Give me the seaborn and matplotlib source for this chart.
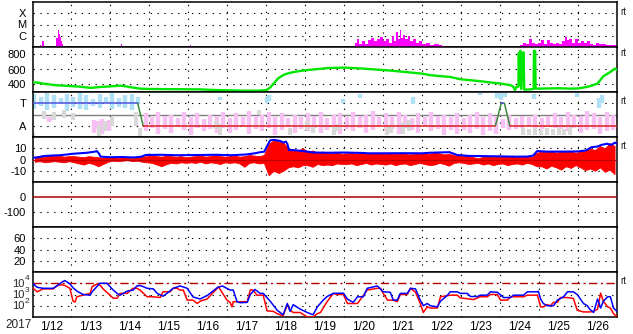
import numpy as np
import matplotlib
matplotlib.use("Agg")
import matplotlib.pyplot as plt
from matplotlib.ticker import NullLocator, FixedLocator
import seaborn as sns

# ---------------- data (time = days since 2017-01-12 00:00 UT) ----------------
day_labels = ["1/12", "1/13", "1/14", "1/15", "1/16", "1/17", "1/18", "1/19",
              "1/20", "1/21", "1/22", "1/23", "1/24", "1/25", "1/26"]
year_label = "2017"

# X-ray flux (log10 W/m2)
xray_t = [0.0, 0.19, 0.22, 0.24, 0.27, 0.30, 0.60, 0.63, 0.66, 0.69, 0.71, 0.73, 0.76, 0.78,
          2.25, 2.27, 2.30, 4.02, 4.05, 4.07,
          8.23, 8.31, 8.36, 8.41, 8.49, 8.57, 8.64, 8.72, 8.80, 8.87, 8.95, 9.03, 9.11, 9.18,
          9.26, 9.31, 9.36, 9.41, 9.44, 9.49, 9.54, 9.60, 9.65, 9.72, 9.80, 9.88, 9.95, 10.06,
          10.16, 10.26, 10.37, 10.47, 10.57, 10.65, 10.93, 10.98, 11.03, 11.37, 11.39, 11.42,
          12.47, 12.55, 12.62, 12.70, 12.78, 12.86, 12.93, 13.01, 13.09, 13.16, 13.24, 13.32,
          13.39, 13.47, 13.55, 13.63, 13.68, 13.73, 13.80, 13.88, 13.96, 14.04, 14.11, 14.19,
          14.27, 14.35, 14.42, 14.50, 14.58, 14.68, 14.78, 14.88, 14.98]
xray_log = [-8, -8, -6.82, -8, -6.45, -8, -8, -6.2, -5.48, -5.85, -6.15, -6.45, -6.7, -8,
            -8, -6.7, -8, -8, -6.85, -8,
            -8, -6.6, -6.3, -6.7, -6.5, -6.75, -6.4, -6.2, -6.5, -6.3, -6.1, -6.45, -6.3, -6.6,
            -6.0, -6.5, -5.7, -6.3, -5.5, -6.2, -5.9, -6.3, -6.0, -6.5, -6.3, -6.6, -6.5, -6.75,
            -6.6, -6.8, -6.75, -6.85, -6.9, -8, -8, -6.9, -8, -8, -6.9, -8,
            -8, -6.8, -6.6, -6.75, -6.3, -6.6, -6.7, -6.6, -6.4, -6.7, -6.35, -6.6,
            -6.75, -6.6, -6.7, -6.5, -6.1, -6.4, -6.3, -6.6, -6.3, -6.6, -6.5, -6.6,
            -6.5, -6.7, -6.8, -6.6, -6.7, -6.75, -6.85, -6.8, -6.85]

# Solar wind speed (km/s)
speed_t = [0.0, 0.12, 0.30, 0.45, 0.60, 0.80, 1.00, 1.20, 1.40, 1.50, 1.70, 2.00, 2.25, 2.40,
           2.50, 2.76, 3.00, 3.50, 4.00, 4.30, 4.60, 5.00, 5.40, 5.80, 6.00, 6.10, 6.20, 6.30,
           6.45, 6.60, 6.80, 7.00, 7.20, 7.40, 7.60, 8.00, 8.40, 8.80, 9.20, 9.60, 10.00, 10.21,
           10.50, 10.72, 10.98, 11.24, 11.49, 11.75, 12.01, 12.27, 12.34, 12.38, 12.42, 12.47,
           12.48, 12.50, 12.52, 12.54, 12.56, 12.58, 12.60, 12.62, 12.70, 12.78, 12.86, 12.87,
           12.90, 12.91, 13.00, 13.50, 13.80, 14.00, 14.20, 14.30, 14.50, 14.65, 14.83, 14.95, 15.00]
speed_v = [430, 425, 410, 400, 390, 385, 378, 372, 360, 355, 365, 375, 385, 375,
           365, 345, 340, 338, 336, 335, 328, 322, 318, 318, 325, 360, 420, 480,
           530, 555, 575, 590, 600, 610, 620, 625, 615, 600, 585, 565, 545, 524,
           510, 501, 470, 457, 444, 427, 413, 391, 368, 325, 370, 370,
           820, 400, 850, 340, 800, 450, 830, 330, 333, 335, 340, 848,
           848, 346, 345, 350, 345, 347, 365, 377, 413, 510, 568, 613, 590]

# Predicted sector polarity (T = +1, A = -1)
sector_t = [0.0, 2.70, 2.84, 11.88, 12.03, 12.11, 12.25, 15.0]
sector_v = [1, 1, -1, -1, 1, 1, -1, -1]
sector_seg_color = ["#5050e0", "#3a8a3a", "#e02020", "#3a8a3a", "#5050e0", "#3a8a3a", "#e02020"]

# Observed IMF angle scatter (bins: time, low, high in panel units)
phi_blue_t = [0.05, 0.22, 0.38, 0.55, 0.72, 0.88, 1.05, 1.22, 1.38, 1.55, 1.72, 1.88, 2.05,
              2.22, 2.38, 2.55, 2.72,
              4.82, 6.02, 6.08, 7.98, 8.41, 9.77, 11.49, 11.93, 12.03, 12.12, 12.86, 13.98, 14.55, 14.62]
phi_blue_lo = [0.5, 0.8, 0.4, 0.6, 0.9, 0.3, 0.7, 0.5, 0.4, 0.8, 0.6, 1.0, 0.5, 0.7, 0.6, 0.4, 0.9,
               1.3, 1.0, 1.2, 1.0, 1.5, 0.9, 1.7, 1.5, 1.3, 1.6, 1.4, 1.6, 0.6, 1.0]
phi_blue_hi = [1.8, 1.6, 1.9, 1.7, 1.5, 1.8, 1.6, 1.9, 1.7, 1.4, 1.8, 1.6, 1.9, 1.5, 1.7, 1.8, 1.6,
               1.6, 1.6, 1.7, 1.4, 1.8, 1.6, 1.95, 1.95, 1.9, 1.95, 1.8, 1.95, 1.5, 1.7]

phi_pink_early_t = [0.42, 0.50, 1.58, 1.68, 1.78, 1.88, 1.97]
phi_pink_early_lo = [-0.7, -0.5, -1.6, -1.3, -1.7, -1.2, -1.5]
phi_pink_early_hi = [-0.2, -0.3, -0.5, -0.6, -0.4, -0.7, -0.5]
phi_pink_lo = [-1.5, -1.2, -1.7, -1.3, -1.6, -1.1, -1.4, -1.8, -1.2, -1.5, -1.3, -1.6,
               -1.2, -1.6, -1.4, -1.1, -1.7, -1.3, -1.5, -1.2, -1.8, -1.4, -1.1, -1.6,
               -1.3, -1.5, -1.2, -1.6, -1.4, -1.1, -1.7, -1.3, -1.5, -1.2, -1.6, -1.4,
               -1.1, -1.5, -1.3, -1.7, -1.2, -1.4, -1.6, -1.1, -1.5, -1.3, -1.8, -1.4,
               -1.7, -1.4, -1.6, -1.3, -1.8, -1.5, -1.7, -1.2, -1.4, -1.3, -1.2, -1.1,
               -1.2, -1.3, -1.1, -1.2, -1.3, -1.5, -1.2, -1.6, -1.4, -1.3, -1.7, -1.5, -1.4]
phi_pink_hi = [0.1, -0.2, 0.2, -0.1, 0.0, -0.3, 0.2, -0.2, 0.1, -0.4, 0.0, -0.1,
               0.2, -0.3, 0.1, -0.2, 0.3, -0.1, 0.0, 0.2, -0.2, 0.1, -0.3, 0.0,
               -0.2, 0.1, -0.1, 0.2, -0.3, 0.0, 0.1, -0.2, 0.2, -0.1, 0.0, 0.3,
               -0.2, 0.1, -0.1, 0.2, 0.0, -0.3, 0.1, -0.2, 0.2, -0.1, 0.0, -0.2,
               0.1, -0.3, 0.0, 0.2, -0.2, 0.1, -0.1, -0.4, 0.0, -0.3, -0.1, -0.2,
               0.0, -0.3, -0.1, 0.1, -0.2, 0.2, 0.0, -0.1, 0.3, 0.1, -0.2, 0.2, 0.0]

phi_gray_t = [0.02, 0.30, 0.55, 0.80, 1.05, 1.70, 1.85, 2.05, 2.65, 2.75, 4.70, 4.82, 5.80,
              6.60, 7.05, 7.20, 7.75, 7.85, 9.10, 9.20, 9.50, 9.65,
              12.60, 12.75, 12.90, 13.05, 13.20, 13.35, 13.50, 13.65, 13.80]
phi_gray_lo = [-1.9, -0.4, -0.5, -0.3, -0.5, -1.9, -1.5, -1.0, -1.0, -1.9, -1.3, -1.8, 0.0,
               -1.8, -1.4, -1.6, -1.8, -1.5, -1.8, -1.6, -1.7, -1.5,
               -1.8, -1.8, -1.85, -1.8, -1.85, -1.8, -1.85, -1.8, -1.8]
phi_gray_hi = [-1.6, 0.3, 0.2, 0.4, 0.1, -0.9, -0.6, -0.2, 0.2, -1.2, -0.6, -0.8, 0.4,
               -1.2, -0.6, -0.9, -1.1, -0.8, -1.1, -0.9, -0.7, -0.5,
               -1.2, -1.3, -1.2, -1.4, -1.2, -1.3, -1.2, -1.3, -1.1]

# IMF |B| (nT)
bt_t = [0.0, 0.15, 0.27, 0.5, 0.7, 0.9, 1.0, 1.2, 1.4, 1.6, 1.65, 1.7, 1.75, 2.0, 2.3, 2.6,
        2.8, 2.9, 3.3, 3.7, 4.3, 4.7, 5.1, 5.5, 5.7, 5.85, 5.95, 6.02, 6.1, 6.2, 6.35, 6.45,
        6.5, 6.54, 6.58, 6.8, 7.05, 7.2, 7.6, 8.0, 8.5, 8.6, 9.0, 9.5, 10.0, 10.2, 10.7,
        10.9, 11.2, 11.6, 12.0, 12.4, 12.7, 12.85, 12.95, 13.2, 13.6, 14.0, 14.2, 14.35,
        14.5, 14.6, 14.75, 14.85, 14.95, 15.0]
bt_v = [1.5, 2.0, 3.0, 3.5, 3.8, 4.5, 5.0, 5.5, 6.0, 7.0, 7.5, 5.5, 2.5, 2.0, 2.2, 1.8,
        2.5, 4.0, 4.2, 3.8, 4.0, 4.2, 3.8, 4.5, 5.5, 6.5, 7.0, 12.0, 17.0, 17.5, 16.5, 15.0,
        16.0, 14.0, 8.5, 8.0, 7.0, 6.2, 6.0, 6.2, 5.8, 5.5, 5.5, 5.6, 5.5, 6.0, 6.5,
        4.0, 3.2, 3.0, 2.8, 2.5, 2.6, 3.5, 7.5, 7.0, 7.0, 7.2, 8.0, 11.0,
        11.5, 13.0, 14.0, 13.0, 15.0, 14.0]

# IMF Bz envelope per 3-hour bin (nT)
bz_hi = [2.5, 3.0, 2.0, 3.5, 3.0, 3.5, 2.5, 3.0,
         3.0, 2.5, 2.0, 3.0, 2.5, 2.0, 1.5, 2.0,
         2.0, 1.5, 2.0, 1.5, 1.0, 2.0, 2.5, 3.0,
         3.5, 3.0, 2.5, 3.5, 3.0, 2.5, 3.0, 2.0,
         2.5, 3.0, 3.5, 2.5, 3.0, 4.0, 3.0, 2.5,
         3.0, 3.5, 2.5, 3.0, 4.0, 3.5, 3.0, 4.0,
         14.0, 17.0, 16.0, 15.0, 10.0, 9.0, 8.0, 10.0,
         7.0, 8.0, 6.0, 7.0, 6.0, 5.5, 6.5, 5.0,
         5.5, 6.0, 5.0, 6.5, 5.0, 6.0, 5.5, 6.0,
         5.0, 6.0, 5.5, 6.0, 5.0, 4.5, 5.5, 5.0,
         5.5, 5.0, 6.0, 5.5, 4.5, 5.0, 4.0, 3.5,
         3.5, 3.0, 2.0, 1.0, 2.5, 3.0, 2.5, 3.5,
         3.0, 2.5, 3.5, 2.0, 2.5, 3.0, 2.0, 6.0,
         7.0, 6.5, 7.5, 6.0, 7.0, 6.5, 7.5, 6.0,
         7.0, 8.0, 9.5, 8.5, 12.0, 10.0, 14.5, 12.0]
bz_lo = [-2.0, -1.5, -2.5, -2.0, -1.5, -2.0, -2.5, -1.5,
         -2.5, -3.5, -4.5, -3.0, -4.0, -6.0, -4.0, -2.0,
         -1.0, -1.5, -1.0, -0.5, -1.5, -1.0, -2.0, -2.5,
         -3.0, -4.5, -6.0, -4.0, -3.0, -3.5, -2.5, -3.0,
         -2.5, -3.0, -2.0, -3.5, -2.5, -3.0, -4.0, -2.5,
         -3.0, -2.5, -3.5, -6.5, -3.0, -2.5, -3.5, -3.0,
         -14.0, -10.0, -12.0, -10.0, -7.0, -6.0, -7.0, -5.0,
         -5.0, -6.5, -4.0, -5.0, -4.5, -5.0, -3.5, -4.0,
         -4.0, -3.5, -5.0, -4.0, -3.0, -4.5, -3.5, -4.0,
         -4.5, -3.5, -5.0, -4.0, -3.5, -5.0, -4.0, -3.0,
         -4.0, -5.0, -4.5, -3.0, -4.0, -5.5, -3.0, -2.5,
         -3.0, -4.0, -3.5, -3.0, -4.5, -3.5, -5.0, -4.0,
         -3.5, -5.0, -4.0, -3.5, -4.5, -3.0, -4.0, -6.0,
         -6.0, -8.0, -5.5, -7.0, -9.0, -6.0, -7.5, -5.0,
         -7.0, -9.5, -8.0, -10.0, -7.0, -11.0, -9.0, -13.0]

# Electron flux (log10)
e_blue_t = [0.0, 0.12, 0.27, 0.53, 0.66, 0.78, 0.83, 0.96, 1.04, 1.14, 1.30, 1.48, 1.53, 1.73,
            1.91, 2.07, 2.17, 2.25, 2.43, 2.58, 2.68, 2.76, 2.84, 2.94, 3.10, 3.20, 3.35, 3.45,
            3.61, 3.79, 3.97, 4.12, 4.30, 4.48, 4.74, 4.87, 5.07, 5.15, 5.25, 5.33, 5.51, 5.59,
            5.71, 5.84, 5.92, 6.10, 6.28, 6.43, 6.54, 6.61, 6.69, 6.87, 7.05, 7.20, 7.31, 7.46,
            7.56, 7.72, 7.98, 8.08, 8.23, 8.34, 8.49, 8.59, 8.85, 9.00, 9.18, 9.26, 9.36, 9.44,
            9.62, 9.70, 9.83, 9.95, 10.03, 10.13, 10.21, 10.39, 10.47, 10.65, 10.72, 10.90, 10.98,
            11.16, 11.24, 11.42, 11.49, 11.67, 11.75, 11.93, 12.09, 12.27, 12.34, 12.60, 12.70,
            12.96, 12.98, 13.04, 13.11, 13.21, 13.37, 13.47, 13.63, 13.73, 13.88, 13.98, 14.14,
            14.24, 14.30, 14.40, 14.50, 14.58, 14.65, 14.76, 14.83, 14.91, 15.0]
e_blue_log = [4.0, 3.64, 3.55, 3.55, 3.85, 4.15, 4.24, 3.94, 3.6, 3.3, 3.0, 2.94, 3.24, 4.0,
              4.0, 3.4, 3.1, 2.94, 3.3, 3.39, 3.76, 3.8, 3.7, 3.55, 3.5, 3.1, 2.85, 3.1,
              3.55, 3.76, 3.55, 2.78, 2.6, 2.9, 3.6, 3.76, 3.4, 3.4, 2.36, 2.27, 2.3, 3.0,
              3.45, 3.1, 3.1, 2.4, 1.6, 1.2, 2.2, 1.5, 2.1, 1.7, 1.4, 1.2, 1.9, 2.5,
              2.82, 3.1, 3.12, 2.6, 2.3, 2.8, 2.8, 3.55, 3.76, 3.24, 3.2, 2.5, 2.5, 3.1,
              3.1, 3.55, 3.5, 2.5, 2.0, 2.2, 2.0, 1.9, 2.4, 2.94, 3.24, 3.24, 3.1,
              3.1, 2.82, 2.82, 2.94, 2.94, 3.24, 3.2, 2.73, 2.73, 2.94, 2.94, 3.24,
              3.24, 3.3, 2.6, 2.2, 2.0, 2.0, 2.5, 2.8, 3.24, 3.24, 3.0, 2.2,
              2.0, 1.7, 1.4, 2.6, 1.8, 2.4, 2.8, 2.8, 1.8, 1.5]
e_red_t = [0.0, 0.12, 0.27, 0.53, 0.66, 0.78, 0.83, 0.96, 1.04, 1.09, 1.14, 1.30, 1.48, 1.53,
           1.66, 1.73, 1.81, 1.99, 2.07, 2.17, 2.25, 2.43, 2.58, 2.68, 2.76, 2.94, 3.10, 3.20,
           3.28, 3.35, 3.53, 3.61, 3.71, 3.79, 3.87, 3.97, 4.12, 4.23, 4.30, 4.48, 4.74, 4.77,
           4.99, 5.07, 5.12, 5.15, 5.51, 5.59, 5.66, 5.76, 5.92, 6.02, 6.18, 6.28, 6.43, 6.54,
           6.61, 6.69, 6.87, 7.05, 7.20, 7.31, 7.39, 7.56, 7.72, 7.82, 7.98, 8.08, 8.34, 8.59,
           8.85, 8.93, 9.00, 9.11, 9.26, 9.36, 9.44, 9.62, 9.70, 9.83, 9.95, 10.03, 10.13, 10.21,
           10.39, 10.47, 10.72, 10.90, 10.98, 11.32, 11.49, 11.67, 11.75, 11.93, 12.01, 12.19,
           12.27, 12.60, 12.70, 12.96, 13.04, 13.11, 13.21, 13.29, 13.37, 13.47, 13.55, 13.73,
           13.88, 13.98, 14.14, 14.30, 14.40, 14.50, 14.58, 14.65, 14.76, 14.83, 14.91, 15.0]
e_red_log = [3.6, 3.24, 3.5, 3.5, 3.85, 3.85, 3.8, 3.55, 2.42, 2.33, 2.8, 2.95, 3.1, 3.7,
             3.94, 3.85, 3.5, 2.94, 2.67, 2.67, 3.1, 3.1, 3.55, 3.55, 3.39, 2.8, 2.8, 2.75,
             2.75, 3.24, 3.24, 3.55, 3.55, 3.39, 3.39, 2.5, 2.5, 2.2, 2.4, 2.6, 3.55, 3.7,
             2.5, 2.3, 1.9, 2.36, 2.36, 3.4, 3.4, 2.94, 2.94, 1.55, 1.5, 1.3, 1.1, 2.1,
             1.6, 1.4, 1.4, 1.0, 1.0, 1.3, 1.4, 2.36, 3.1, 3.0, 3.0, 2.2, 2.2, 3.4,
             3.55, 3.55, 3.1, 2.5, 2.5, 2.36, 3.0, 3.0, 3.55, 3.2, 2.2, 1.4, 1.9, 1.8,
             1.8, 2.8, 2.94, 2.94, 2.7, 2.55, 2.8, 2.8, 3.0, 3.0, 2.5, 2.5,
             2.8, 2.8, 2.94, 2.94, 1.9, 1.9, 2.1, 2.0, 2.3, 2.3, 2.73, 2.73,
             2.65, 1.6, 1.45, 1.45, 1.5, 1.7, 3.12, 2.4, 1.9, 1.8, 1.3, 1.0]
e_exponents = [2, 3, 4]


def pair(a, b):
    n = min(len(a), len(b))
    return np.asarray(a[:n], float), np.asarray(b[:n], float)


# ---------------- style ----------------
sns.set_theme(style="white")
plt.rcParams["font.family"] = ["Liberation Sans", "DejaVu Sans"]
plt.rcParams["mathtext.default"] = "regular"

W, H = 633, 334
fig = plt.figure(figsize=(W / 100, H / 100), dpi=100)
fig.patch.set_facecolor("white")

left_px, right_px, top_px, ph = 32.5, 617.0, 2.0, 45.0
DOT = (0, (1.2, 5.0))
YFS = 8.0

axes = []
for i in range(7):
    top = top_px + i * ph
    ax = fig.add_axes([left_px / W, 1 - (top + ph) / H, (right_px - left_px) / W, ph / H])
    ax.set_facecolor("white")
    ax.set_xlim(0, 15)
    for s in ax.spines.values():
        s.set_visible(True)
        s.set_color("black")
        s.set_linewidth(1.1)
    for d in range(1, 15):
        ax.axvline(d, color="black", lw=0.8, ls=DOT, zorder=1)
    ax.set_xticks([])
    ax.tick_params(axis="y", length=0, pad=4.5, labelsize=YFS, colors="black")
    axes.append(ax)

(ax1, ax2, ax3, ax4, ax5, ax6, ax7) = axes

def set_levels(ax, ticks, labels, dotted):
    ax.yaxis.set_major_locator(FixedLocator(ticks))
    ax.yaxis.set_minor_locator(NullLocator())
    ax.set_yticklabels(labels)
    for lv in dotted:
        ax.axhline(lv, color="black", lw=0.8, ls=DOT, zorder=1)
    ax.set_xlabel("")
    ax.set_ylabel("")

# Panel 1: X-ray
xt, xl = pair(xray_t, xray_log)
ax1.set_yscale("log")
ax1.fill_between(xt, 1e-9, 10 ** xl, step="mid", color="#ff00ff", lw=0, zorder=3)
ax1.set_ylim(1e-7, 1e-3)
set_levels(ax1, [1e-6, 1e-5, 1e-4], ["C", "M", "X"], [1e-6, 1e-5, 1e-4])

# Panel 2: solar wind speed
st, sv = pair(speed_t, speed_v)
sns.lineplot(x=st, y=sv, ax=ax2, color="#00e600", lw=1.7, estimator=None, sort=False, zorder=3)
ax2.set_ylim(300, 900)
set_levels(ax2, [400, 600, 800], ["400", "600", "800"], [400, 600, 800])

# Panel 3: sector
ax3.set_ylim(-2, 2)
set_levels(ax3, [-1, 1], ["A", "T"], [-1, 1])
ax3.axhline(0, color="#808080", lw=1.0, zorder=2)
bt_, blo = pair(phi_blue_t, phi_blue_lo)
_, bhi = pair(phi_blue_t, phi_blue_hi)
pk_t = 2.9 + np.arange(len(phi_pink_lo)) / 6.0
ax3.vlines(bt_, blo, bhi, color="#b0e0f4", lw=3.2, zorder=2)
ax3.vlines(pk_t, phi_pink_lo, phi_pink_hi, color="#f7c0f2", lw=3.2, zorder=2)
ax3.vlines(phi_pink_early_t, phi_pink_early_lo, phi_pink_early_hi, color="#f7c0f2", lw=3.2, zorder=2)
gt, glo = pair(phi_gray_t, phi_gray_lo)
_, ghi = pair(phi_gray_t, phi_gray_hi)
ax3.vlines(gt, glo, ghi, color="#d8d8d8", lw=3.0, zorder=2)
for k, c in enumerate(sector_seg_color):
    sns.lineplot(x=sector_t[k:k + 2], y=sector_v[k:k + 2], ax=ax3, color=c, lw=1.1,
                 estimator=None, sort=False, zorder=4)
ax3.set_xlim(0, 15)

# Panel 4: IMF Bt / Bz
ax4.set_ylim(-20, 20)
set_levels(ax4, [-10, 0, 10], ["-10", "0", "10"], [-10, 10])
nb = min(len(bz_hi), len(bz_lo))
bz_t = (np.arange(nb) + 0.5) / 8.0
ax4.fill_between(bz_t, bz_lo[:nb], bz_hi[:nb], color="#ff0000", lw=0.6, edgecolor="#ff0000", zorder=2)
ax4.axhline(0, color="#c00000", lw=0.9, zorder=3)
btt, btv = pair(bt_t, bt_v)
sns.lineplot(x=btt, y=btv, ax=ax4, color="#0000ff", lw=1.5, estimator=None, sort=False, zorder=4)

# Panel 5: Dst
ax5.set_ylim(-200, 100)
set_levels(ax5, [-100, 0], ["-100", "0"], [-100])
ax5.axhline(0, color="#aa0000", lw=1.1, zorder=3)

# Panel 6
ax6.set_ylim(0, 80)
set_levels(ax6, [20, 40, 60], ["20", "40", "60"], [20, 40, 60])

# Panel 7: electron flux
ax7.set_yscale("log")
ebt, ebv = pair(e_blue_t, e_blue_log)
ert, erv = pair(e_red_t, e_red_log)
sns.lineplot(x=ert, y=10 ** erv, ax=ax7, color="#ff0000", lw=1.1, estimator=None, sort=False, zorder=3)
sns.lineplot(x=ebt, y=10 ** ebv, ax=ax7, color="#0000ff", lw=1.1, estimator=None, sort=False, zorder=3)
ax7.set_ylim(1e1, 1e5)
set_levels(ax7, [10.0 ** e for e in e_exponents], ["" for _ in e_exponents], [1e2, 1e3])
ax7.axhline(1e4, color="#b00000", lw=1.0, ls=(0, (6, 2.5, 1.5, 2.5)), zorder=2)
# "10" base + raised exponent, as separate texts
for e in e_exponents:
    ax7.annotate("10", xy=(0, 10.0 ** e), xycoords=("axes fraction", "data"),
                 xytext=(-8.5, -0.5), textcoords="offset pixels", ha="right", va="center",
                 fontsize=YFS, annotation_clip=False)
    ax7.annotate(str(e), xy=(0, 10.0 ** e), xycoords=("axes fraction", "data"),
                 xytext=(-8, 4.5), textcoords="offset pixels", ha="left", va="center",
                 fontsize=6, annotation_clip=False)

for ax in axes:
    ax.set_xlim(0, 15)
    ax.set_xlabel("")
    ax.set_ylabel("")

ax7.set_xticks(np.arange(15) + 0.5)
ax7.set_xticklabels(day_labels, fontsize=8.5)
ax7.tick_params(axis="x", length=0, pad=3, colors="black")
fig.text(5 / W, 1 - 325 / H, year_label, fontsize=8.5, ha="left", va="center")

for ypx in [12, 53, 101, 146, 281]:
    fig.text(620 / W, 1 - ypx / H, "rt", fontsize=7, ha="left", va="center")

fig.savefig("out.png", dpi=100, facecolor="white")
